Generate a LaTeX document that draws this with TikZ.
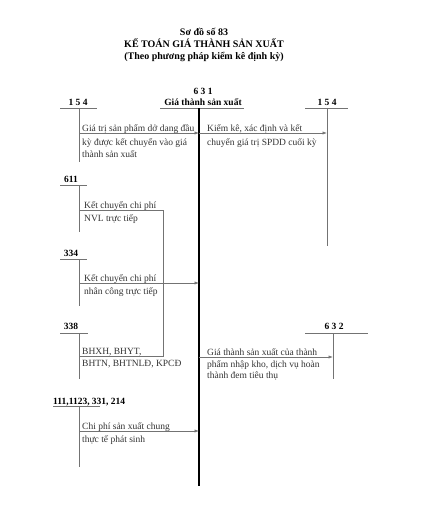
\documentclass[tikz,border=0pt]{standalone}
\usepackage{fontspec}
\setmainfont{Liberation Serif}
\usetikzlibrary{arrows.meta}
\begin{document}
\begin{tikzpicture}[x=1pt,y=-1pt,
  ttl/.style={font=\fontsize{10}{12}\selectfont\bfseries, inner sep=0pt, anchor=base},
  lbl/.style={font=\fontsize{9.5}{11}\selectfont\bfseries, inner sep=0pt, anchor=base},
  txt/.style={font=\fontsize{9.5}{11}\selectfont, inner sep=0pt, anchor=base west, text=black!80},
  acc/.style={draw=black!55, line width=0.6pt},
  main/.style={draw=black, line width=1.1pt},
  arr/.style={acc, -{Latex[length=4.5pt,width=3.2pt]}}]
\useasboundingbox (0,0) rectangle (421,512);
% titles
\node[ttl] (t1) at (204,35) {Sơ đồ số 83};
\node[ttl] (t2) at (204,47) {KẾ TOÁN GIÁ THÀNH SẢN XUẤT};
\node[ttl] (t3) at (204,59) {(Theo phương pháp kiểm kê định kỳ)};
% account 631
\node[lbl] (n631) at (203,94) {6 3 1};
\node[lbl] (h631) at (203,105) {Giá thành sản xuất};
\coordinate (u631a) at (160,108); \coordinate (u631b) at (244,108);
\draw[acc] (u631a) -- (u631b);
\coordinate (c0) at (199,108); \coordinate (c1) at (199,486);
\draw[main] (c0) -- (c1);
\coordinate (in1) at (199,133);
\coordinate (in2) at (199,283);
\coordinate (in3) at (199,431);
% left 154
\node[lbl] (l154) at (78,105) {1 5 4};
\coordinate (ul154a) at (60,108); \coordinate (ul154b) at (97,108);
\coordinate (vl154a) at (79,108); \coordinate (vl154b) at (79,162);
\coordinate (hl154) at (79,133);
\draw[acc] (ul154a) -- (ul154b) (vl154a) -- (vl154b);
\draw[arr] (hl154) -- (in1);
\node[txt] (x1a) at (82,131) {Giá trị sản phẩm dở dang đầu};
\node[txt] (x1b) at (82,145) {kỳ được kết chuyển vào giá};
\node[txt] (x1c) at (82,157) {thành sản xuất};
% right 154
\node[lbl] (r154) at (327,105) {1 5 4};
\coordinate (ur154a) at (305,108); \coordinate (ur154b) at (348,108);
\coordinate (vr154a) at (327,108); \coordinate (vr154b) at (327,246);
\coordinate (hr154) at (327,133);
\draw[acc] (ur154a) -- (ur154b) (vr154a) -- (vr154b);
\draw[arr] (in1) -- (hr154);
\node[txt] (x2a) at (207,131) {Kiểm kê, xác định và kết};
\node[txt] (x2b) at (207,145) {chuyển giá trị SPDD cuối kỳ};
% 611
\node[lbl] (n611) at (71,182) {611};
\coordinate (u611a) at (60,185); \coordinate (u611b) at (87,185);
\coordinate (v611a) at (79,185); \coordinate (v611b) at (79,232);
\coordinate (h611) at (79,210); \coordinate (j1) at (163,210);
\draw[acc] (u611a) -- (u611b) (v611a) -- (v611b);
\node[txt] (x3a) at (84,208) {Kết chuyển chi phí};
\node[txt] (x3b) at (84,221) {NVL trực tiếp};
% 334
\node[lbl] (n334) at (71,256) {334};
\coordinate (u334a) at (60,259); \coordinate (u334b) at (87,259);
\coordinate (v334a) at (79,259); \coordinate (v334b) at (79,306);
\coordinate (h334) at (79,283);
\draw[acc] (u334a) -- (u334b) (v334a) -- (v334b);
\draw[arr] (h334) -- (in2);
\node[txt] (x4a) at (84,281) {Kết chuyển chi phí};
\node[txt] (x4b) at (84,294) {nhân công trực tiếp};
% 338
\node[lbl] (n338) at (71,329) {338};
\coordinate (u338a) at (60,333); \coordinate (u338b) at (88,333);
\coordinate (v338a) at (79,333); \coordinate (v338b) at (79,379);
\coordinate (h338) at (79,356); \coordinate (j2) at (163,356);
\draw[acc] (u338a) -- (u338b) (v338a) -- (v338b);
\draw[acc] (h611) -- (j1) -- (j2) -- (h338);
\node[txt] (x5a) at (82,354) {BHXH, BHYT,};
\node[txt] (x5b) at (82,366) {BHTN, BHTNLĐ, KPCĐ};
% 632
\node[lbl] (n632) at (334,329) {6 3 2};
\coordinate (u632a) at (305,333); \coordinate (u632b) at (368,333);
\coordinate (v632a) at (333,333); \coordinate (v632b) at (333,379);
\coordinate (h632) at (333,357); \coordinate (out2) at (199,357);
\draw[acc] (u632a) -- (u632b) (v632a) -- (v632b);
\draw[arr] (out2) -- (h632);
\node[txt] (x6a) at (207,355) {Giá thành sản xuất của thành};
\node[txt] (x6b) at (207,367) {phẩm nhập kho, dịch vụ hoàn};
\node[txt] (x6c) at (207,378) {thành đem tiêu thụ};
% 111...
\node[lbl, anchor=base west] (n111) at (53,404) {111,1123, 331, 214};
\coordinate (u111a) at (53,406); \coordinate (u111b) at (100,406);
\coordinate (v111a) at (79,406); \coordinate (v111b) at (79,467);
\coordinate (h111) at (79,431);
\draw[acc] (u111a) -- (u111b) (v111a) -- (v111b);
\draw[arr] (h111) -- (in3);
\node[txt] (x7a) at (82,429) {Chi phí sản xuất chung};
\node[txt] (x7b) at (82,442) {thực tế phát sinh};
\end{tikzpicture}
\end{document}
